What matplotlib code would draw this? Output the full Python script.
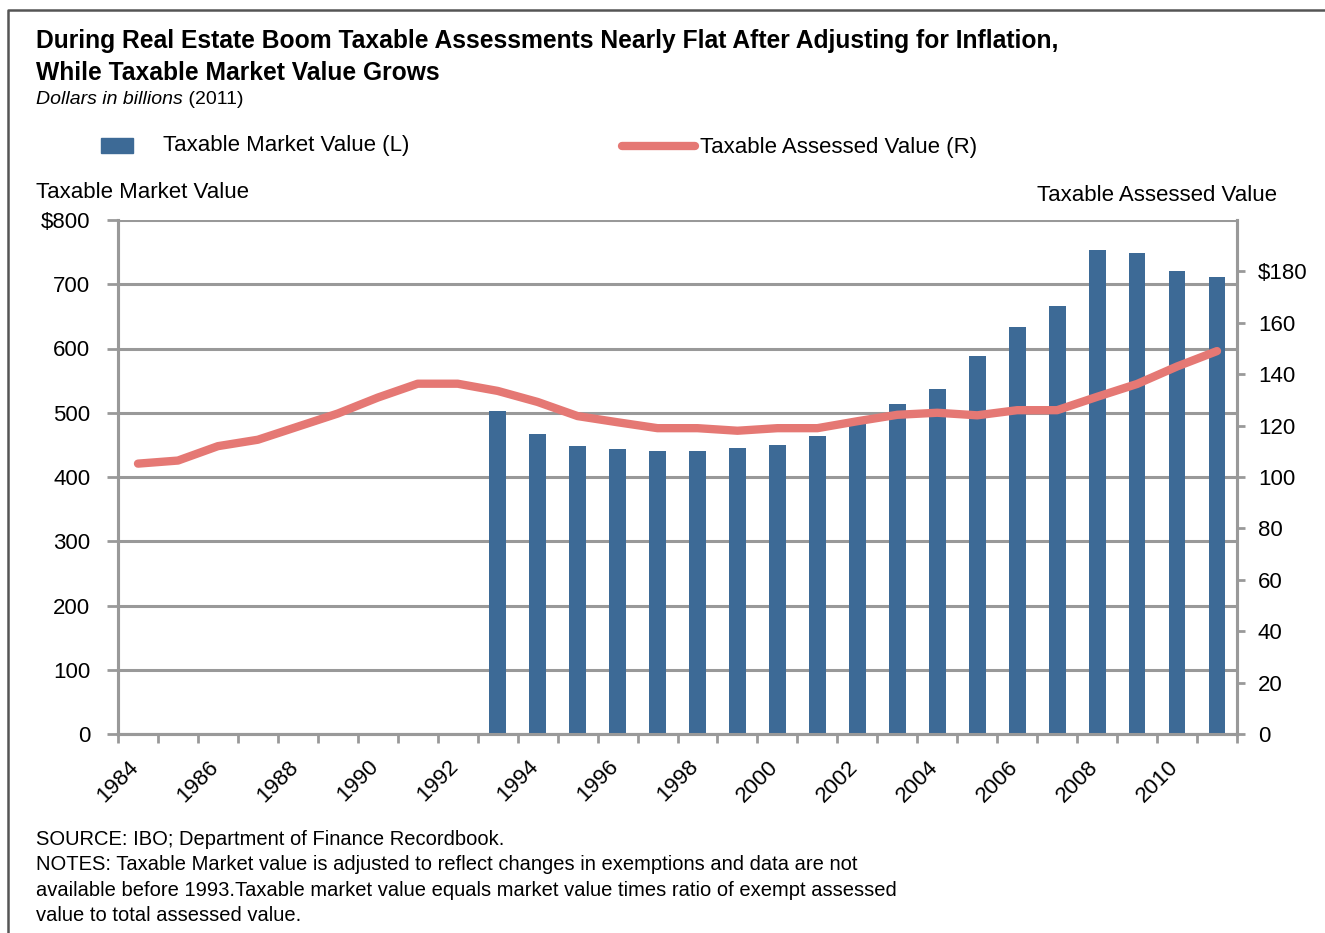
import numpy as np
import matplotlib
matplotlib.use("Agg")
import matplotlib.pyplot as plt
import matplotlib.transforms as mtransforms
from matplotlib.lines import Line2D
from matplotlib.patches import Rectangle

# Datos
years = list(range(1984, 2012))
market_years = list(range(1993, 2012))
market_value = [503, 467, 448, 444, 440, 440, 445, 450, 464, 489,
                514, 537, 588, 633, 666, 753, 748, 720, 711]
assessed_value = [105.2, 106.4, 112.0, 114.5, 119.6, 124.7, 130.9, 136.3, 136.3,
                  133.5, 129.2, 123.7, 121.3, 119.0, 119.0, 118.0, 119.0, 119.0,
                  121.7, 124.2, 125.0, 124.0, 126.0, 126.0, 131.2, 136.2, 143.0, 149.0]
year_labels = [str(y) for y in range(1984, 2011, 2)]
left_ticks = list(range(0, 801, 100))
left_labels = ['0', '100', '200', '300', '400', '500', '600', '700', '$800']
right_ticks = list(range(0, 181, 20))
right_labels = ['0', '20', '40', '60', '80', '100', '120', '140', '160', '$180']

BAR_COLOR = '#3D6A96'
LINE_COLOR = '#E57874'
GRID_COLOR = '#999999'
FS = 16

plt.rcParams['font.family'] = ['Liberation Sans', 'DejaVu Sans']

W, H = 1325, 933
fig = plt.figure(figsize=(W / 100, H / 100), dpi=100)


def fx(px):
    return px / W


def fy(py):
    return 1 - py / H


ax = fig.add_axes([fx(118), fy(734), fx(1237 - 118), fy(220) - fy(734)])
ax2 = ax.twinx()

# Barras (eje izquierdo)
x_market = [y - years[0] for y in market_years]
ax.bar(x_market, market_value, width=0.42, color=BAR_COLOR, zorder=3)
ax.set_ylim(0, 800)
ax.set_xlim(-0.5, len(years) - 0.5)
ax.set_yticks(left_ticks)
ax.set_yticklabels(left_labels)
ax.yaxis.grid(True, color=GRID_COLOR, linewidth=2.2)
ax.set_axisbelow(True)

# Linea (eje derecho)
x_all = [y - years[0] for y in years]
ax2.plot(x_all, assessed_value, color=LINE_COLOR, linewidth=6,
         solid_capstyle='round', solid_joinstyle='round', zorder=4)
ax2.set_ylim(0, 200)
ax2.set_yticks(right_ticks)
ax2.set_yticklabels(right_labels)

# Ticks del eje x en los limites de las categorias
ax.set_xticks(np.arange(-0.5, len(years), 1.0))
ax.set_xticklabels([])
ax.set_xticks([y - years[0] for y in range(1984, 2011, 2)], minor=True)
ax.set_xticklabels(year_labels, minor=True, rotation=45, ha='right', va='top',
                   fontsize=FS)
ax.tick_params(axis='x', which='major', direction='out', length=6.5,
               width=2, color=GRID_COLOR)
ax.tick_params(axis='x', which='minor', length=0, pad=16)
offset = mtransforms.ScaledTranslation(5 / 100, 0, fig.dpi_scale_trans)
for lbl in ax.xaxis.get_minorticklabels():
    lbl.set_transform(lbl.get_transform() + offset)

ax.tick_params(axis='y', direction='out', length=8, width=2, color=GRID_COLOR,
               labelsize=FS, pad=12)
ax2.tick_params(axis='y', direction='out', length=6, width=2, color=GRID_COLOR,
                labelsize=FS, pad=9)

for a in (ax, ax2):
    a.spines['top'].set_visible(False)
    for side in ('left', 'right', 'bottom'):
        a.spines[side].set_color(GRID_COLOR)
        a.spines[side].set_linewidth(2.2)

# Titulos
fig.text(fx(36), fy(48), 'During Real Estate Boom Taxable Assessments Nearly Flat After Adjusting for Inflation,',
         fontsize=17.7, fontweight='bold', ha='left', va='baseline')
fig.text(fx(36), fy(80), 'While Taxable Market Value Grows',
         fontsize=17.7, fontweight='bold', ha='left', va='baseline')
sub = fig.text(fx(36), fy(104), 'Dollars in billions', fontsize=14, style='italic',
               ha='left', va='baseline')
fig.add_artist(plt.Annotation(' (2011)', xy=(1, 0), xycoords=sub, fontsize=14,
                              ha='left', va='bottom', annotation_clip=False))

# Leyenda manual
fig.add_artist(Rectangle((fx(101), fy(153)), fx(32), fy(138) - fy(153),
                         transform=fig.transFigure, color=BAR_COLOR))
fig.text(fx(163), fy(146), 'Taxable Market Value (L)', fontsize=FS,
         ha='left', va='center')
fig.add_artist(Line2D([fx(622), fx(695)], [fy(146), fy(146)], transform=fig.transFigure,
                      color=LINE_COLOR, linewidth=6, solid_capstyle='round'))
fig.text(fx(700), fy(147), 'Taxable Assessed Value (R)', fontsize=FS,
         ha='left', va='center')

# Titulos de ejes
fig.text(fx(36), fy(198), 'Taxable Market Value', fontsize=FS, ha='left', va='baseline')
fig.text(fx(1277), fy(201), 'Taxable Assessed Value', fontsize=FS, ha='right', va='baseline')

# Notas
notes = ['SOURCE: IBO; Department of Finance Recordbook.',
         'NOTES: Taxable Market value is adjusted to reflect changes in exemptions and data are not',
         'available before 1993.Taxable market value equals market value times ratio of exempt assessed',
         'value to total assessed value.']
for i, line in enumerate(notes):
    fig.text(fx(36), fy(845 + 25.3 * i), line, fontsize=14.5,
             ha='left', va='baseline')

# Marco
fig.add_artist(Line2D([fx(8), fx(8), fx(W + 5)], [fy(H + 5), fy(10), fy(10)],
                      transform=fig.transFigure, color='#555555', linewidth=1.8))

fig.savefig('out.png', dpi=100)
